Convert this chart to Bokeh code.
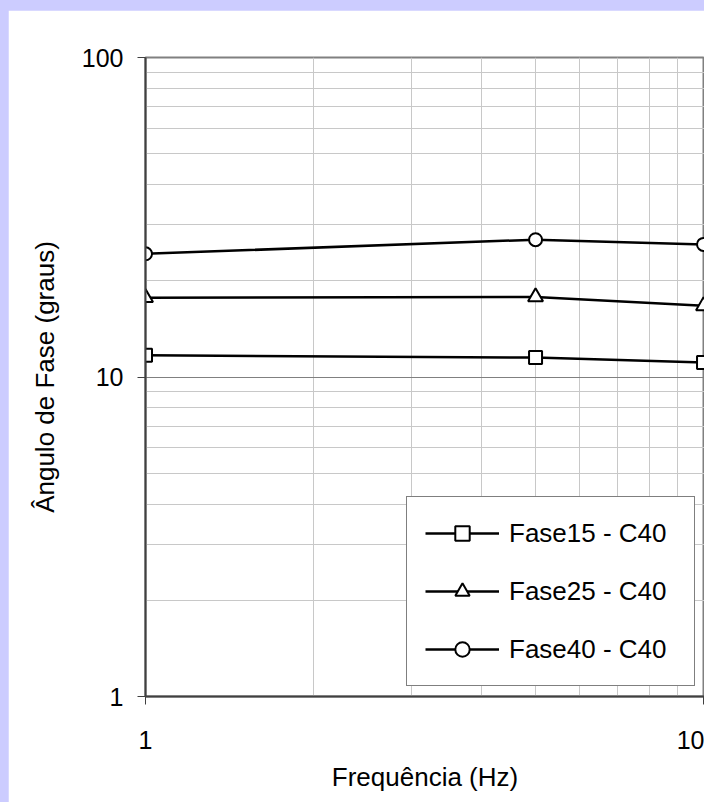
from bokeh.plotting import figure
from bokeh.models import FixedTicker, Legend, LegendItem
from bokeh.embed import file_html
from bokeh.resources import INLINE

# Data
freq = [1, 5, 10]
fase15 = [11.7, 11.5, 11.1]
fase25 = [17.7, 17.8, 16.7]
fase40 = [24.3, 26.9, 26.0]
labels = ["Fase15 - C40", "Fase25 - C40", "Fase40 - C40"]
y_major = [1, 10, 100]
y_minor = [2, 3, 4, 5, 6, 7, 8, 9, 20, 30, 40, 50, 60, 70, 80, 90]
x_major = [1, 10]
x_minor = [2, 3, 4, 5, 6, 7, 8, 9]

FONT = "Liberation Sans"

p = figure(width=696, height=792, x_axis_type="log", y_axis_type="log",
           x_range=(1, 10.04), y_range=(1, 100),
           output_backend="svg", toolbar_location=None,
           min_border_left=137, min_border_top=47, min_border_bottom=106,
           min_border_right=0)
p.margin = (10, 0, 0, 8)
p.background_fill_color = "white"
p.border_fill_color = "white"
p.outline_line_color = "#808080"
p.outline_line_width = 2

p.xaxis.ticker = FixedTicker(ticks=x_major, minor_ticks=x_minor)
p.yaxis.ticker = FixedTicker(ticks=y_major, minor_ticks=y_minor)
p.xaxis.major_label_overrides = {1: "1", 10: "10"}
p.yaxis.major_label_overrides = {1: "1", 10: "10", 100: "100"}

for ax in (p.xaxis, p.yaxis):
    ax.axis_line_color = "#404040"
    ax.axis_line_width = 2
    ax.major_tick_line_color = "#404040"
    ax.major_tick_line_width = 1
    ax.major_tick_in = 0
    ax.major_tick_out = 8
    ax.minor_tick_line_color = None
    ax.major_label_text_font = FONT
    ax.major_label_text_font_size = "25px"
    ax.major_label_text_color = "black"
    ax.axis_label_text_font = FONT
    ax.axis_label_text_font_size = "26px"
    ax.axis_label_text_font_style = "normal"
    ax.axis_label_text_color = "black"

p.xaxis.axis_label = "Frequência (Hz)"
p.yaxis.axis_label = "Ângulo de Fase (graus)"
p.yaxis.major_label_standoff = 14
p.xaxis.major_label_standoff = 26
p.yaxis.axis_label_standoff = 19
p.xaxis.axis_label_standoff = 10

for g in (p.xgrid, p.ygrid):
    g.grid_line_color = "#808080"
    g.grid_line_width = 1
    g.minor_grid_line_color = "#c8c8c8"
    g.minor_grid_line_width = 1

series = [(fase15, "square", 13), (fase25, "triangle", 15), (fase40, "circle", 13)]
items = []
for (vals, marker, sz), lab in zip(series, labels):
    r1 = p.line(freq, vals, line_color="black", line_width=2.5)
    r2 = p.scatter(freq, vals, marker=marker, size=sz, fill_color="white",
                   line_color="black", line_width=2)
    items.append(LegendItem(label=lab, renderers=[r1, r2]))

legend = Legend(items=items, location=(261, 10))
legend.label_text_font = FONT
legend.label_text_font_size = "26px"
legend.label_text_color = "black"
legend.border_line_color = "black"
legend.border_line_width = 1
legend.background_fill_color = "white"
legend.background_fill_alpha = 1
legend.padding = 18
legend.glyph_width = 74
legend.glyph_height = 36
legend.label_height = 36
legend.label_width = 167
legend.label_standoff = 10
legend.spacing = 22
p.add_layout(legend, "center")

html = file_html(p, INLINE)
html = html.replace("</head>", "<style>html, body { background: #ccccff; }</style></head>", 1)
open("out.html", "w").write(html)
